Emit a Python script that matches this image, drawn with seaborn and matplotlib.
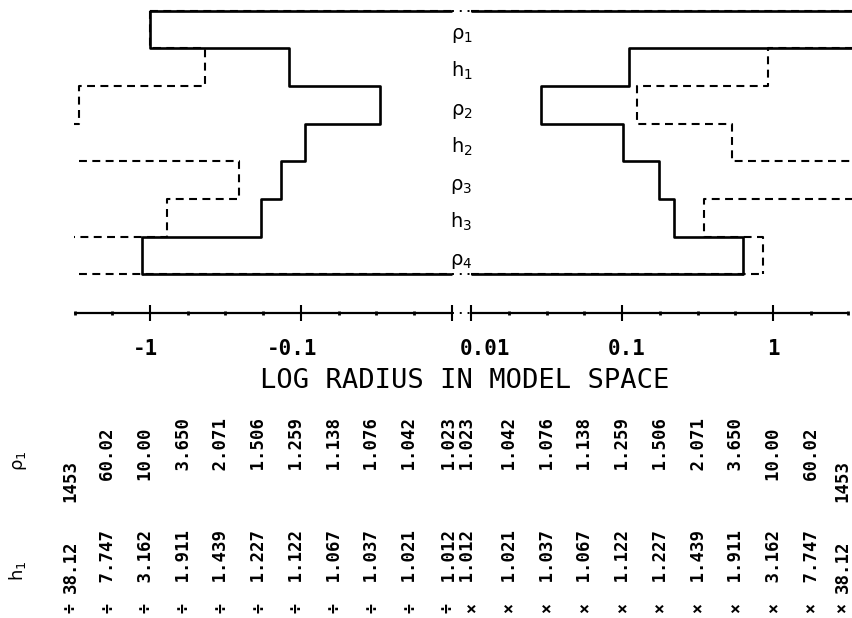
import numpy as np
import matplotlib
matplotlib.use("Agg")
import matplotlib.pyplot as plt
import matplotlib.transforms as mtransforms
import seaborn as sns

sns.set_theme(style="white")
plt.rcParams['font.family'] = ['DejaVu Sans']
plt.rcParams['mathtext.fontset'] = 'dejavusans'

# ---------------- data ----------------
layer_labels = ["ρ$_1$", "h$_1$", "ρ$_2$", "h$_2$", "ρ$_3$", "h$_3$", "ρ$_4$"]
# bounds of each layer row on the log-radius axis (inf = beyond the plotted range)
solid_left = [-1.0, -0.120, -0.030, -0.094, -0.136, -0.184, -1.13]
solid_right = [np.inf, 0.111, 0.0291, 0.1016, 0.176, 0.221, 0.633]
dash_left = [-1.0, -0.433, -2.95, -np.inf, -0.258, -0.771, -np.inf]
dash_right = [np.inf, 0.927, 0.126, 0.535, np.inf, 0.349, 0.859]

major_ticks = [-1, -0.1, -0.01, 0.01, 0.1, 1]
major_labels = ["-1", "-0.1", "", "0.01", "0.1", "1"]
minor_ticks = [-10**0.5, -10**0.25, -10**-0.25, -10**-0.5, -10**-0.75,
               -10**-1.25, -10**-1.5, -10**-1.75,
               10**-1.75, 10**-1.5, 10**-1.25, 10**-0.75, 10**-0.5,
               10**-0.25, 10**0.25, 10**0.5]
axis_title = "LOG RADIUS IN MODEL SPACE"

# table columns (log10 of |radius|), left side mirrored on right side
col_log = [0.5, 0.25, 0.0, -0.25, -0.5, -0.75, -1.0, -1.25, -1.5, -1.75, -2.0]
rho_factor = ["1453", "60.02", "10.00", "3.650", "2.071", "1.506", "1.259",
              "1.138", "1.076", "1.042", "1.023"]
h_factor = ["38.12", "7.747", "3.162", "1.911", "1.439", "1.227", "1.122",
            "1.067", "1.037", "1.021", "1.012"]
op_left, op_right = "÷", "×"

# ---------------- scale: signed log radius with a break around zero ----------------
G = 0.063  # half width of the break, in decades


def fwd(r):
    r = np.asarray(r, dtype=float)
    a = np.abs(r)
    with np.errstate(divide='ignore', invalid='ignore'):
        out = np.where(a <= 0.01, r / 0.01 * G,
                       np.sign(r) * (np.log10(np.maximum(a, 1e-300)) + 2 + G))
    return out


def inv(u):
    u = np.asarray(u, dtype=float)
    a = np.abs(u)
    with np.errstate(over='ignore'):
        return np.where(a <= G, u / G * 0.01, np.sign(u) * 10 ** (a - 2 - G))


W, H = 853, 618
fig = plt.figure(figsize=(W / 100, H / 100), dpi=100)
fig.patch.set_facecolor('white')


def rect(x0, y0, x1, y1):
    return [x0 / W, 1 - y1 / H, (x1 - x0) / W, (y1 - y0) / H]


BIG = 1e3
INK = 'black'

# ---------------- top panel ----------------
ax = fig.add_axes(rect(74.5, 1.3, 853, 283.7))
ax.set_xscale('function', functions=(fwd, inv))
ax.set_xlim(-10**0.5, 10**0.53)
ax.set_ylim(7.25, -0.25)
ax.axis('off')


def clipinf(v):
    return [max(min(x, BIG), -BIG) for x in v]


def step_path(bounds):
    xs, ys = [], []
    for i, b in enumerate(bounds):
        xs += [b, b]
        ys += [i, i + 1]
    return xs, ys


def hline(x0, x1, y, ls, lw, gapdots):
    lo, hi = min(x0, x1), max(x0, x1)
    if lo < -0.01 and hi > 0.01:
        ax.plot([lo, -0.01], [y, y], color=INK, lw=lw, ls=ls, solid_capstyle='butt')
        ax.plot([0.01, hi], [y, y], color=INK, lw=lw, ls=ls, solid_capstyle='butt')
        if gapdots:
            ax.plot([-0.01, 0.01], [y, y], color=INK, lw=1.4, ls=(0, (1, 3)))
    else:
        ax.plot([lo, hi], [y, y], color=INK, lw=lw, ls=ls)


n = len(layer_labels)
dash_style = (0, (3.8, 2.6))
for L, R, ls, lw, gd in [(clipinf(dash_left), clipinf(dash_right), dash_style, 1.5, False),
                         (clipinf(solid_left), clipinf(solid_right), '-', 1.9, True)]:
    for side in (L, R):
        xs, ys = step_path(side)
        sns.lineplot(x=xs, y=ys, sort=False, estimator=None, ax=ax, color=INK,
                     lw=lw, linestyle=ls)
    hline(L[0], R[0], 0, ls, lw, gd)
    hline(L[-1], R[-1], n, ls, lw, gd)
ax.set_xlabel('')
ax.set_ylabel('')

for i, lab in enumerate(layer_labels):
    ax.text(0, i + 0.5 + 0.26, lab, ha='center', va='baseline', fontsize=14,
            color=INK)

# ---------------- number line ----------------
axn = fig.add_axes(rect(74.5, 303, 848.5, 313))
axn.set_xscale('function', functions=(fwd, inv))
axn.set_xlim(-10**0.5, 10**0.5)
axn.set_ylim(0, 1)
for s in axn.spines.values():
    s.set_visible(False)
axn.set_facecolor('none')
axn.plot([-10**0.5, -0.01], [0, 0], color=INK, lw=1.6, clip_on=False)
axn.plot([0.01, 10**0.5], [0, 0], color=INK, lw=1.6, clip_on=False)
axn.plot([-0.01, 0.01], [0, 0], color=INK, lw=1.4, ls=(0, (1, 3)), clip_on=False)
axn.set_xticks(major_ticks)
axn.set_xticklabels([])
axn.set_xticks(minor_ticks, minor=True)
axn.set_yticks([])
axn.tick_params(axis='x', which='major', direction='inout', length=12, width=1.5,
                color=INK, bottom=True)
axn.tick_params(axis='x', which='minor', direction='inout', length=3.5, width=2,
                color=INK, bottom=True)
label_dx = {"-1": -4, "-0.1": -9, "0.01": 14, "0.1": 5, "1": 0}
for t, lab in zip(major_ticks, major_labels):
    if not lab:
        continue
    axn.annotate(lab, xy=(t, 0), xycoords=axn.get_xaxis_transform(),
                 xytext=(label_dx[lab] * 0.72, -19), textcoords='offset points',
                 ha='center', va='top', fontsize=15, fontweight='bold',
                 family='DejaVu Sans Mono', color=INK)

fig.text(465 / W, 1 - 381 / H, axis_title, ha='center', va='center', fontsize=19.5,
         family='DejaVu Sans Mono', color=INK)

# ---------------- table ----------------
axt = fig.add_axes(rect(74.5, 390, 848.5, 618))
axt.set_xscale('function', functions=(fwd, inv))
axt.set_xlim(-10**0.5, 10**0.5)
axt.set_ylim(618, 390)
axt.axis('off')


def shifted(dx):
    return axt.transData + mtransforms.ScaledTranslation(dx / 100, 0, fig.dpi_scale_trans)


def dec_align(s, width):
    ip, dot, fp = s.partition('.')
    return ip.rjust(width) + dot + fp


tkw = dict(rotation=90, rotation_mode='anchor', ha='left', va='center',
           fontsize=12.5, fontweight='bold', family='DejaVu Sans Mono', color=INK)
for side, sign, dx, op in [(0, -1, -4, op_left), (1, 1, 1, op_right)]:
    for k, (lg, rv, hv) in enumerate(zip(col_log, rho_factor, h_factor)):
        r = sign * 10 ** lg
        ddx = dx
        odx = dx
        if lg == -2.0:
            ddx = -2 if side == 0 else -3
        if side == 1 and lg == 0.5:
            ddx = -6
            odx = -6
        axt.text(r, 502, dec_align(rv, 4), transform=shifted(ddx), **tkw)
        axt.text(r, 593, dec_align(hv, 2), transform=shifted(ddx), **tkw)
        axt.text(r, 608, op, transform=shifted(odx), rotation=90, ha='center',
                 va='center', fontsize=12, fontweight='bold',
                 family='DejaVu Sans Mono', color=INK)

fig.text(20 / W, 1 - 461 / H, "ρ$_1$", rotation=90, ha='center', va='center',
         fontsize=13, color=INK)
fig.text(17 / W, 1 - 571 / H, "h$_1$", rotation=90, ha='center', va='center',
         fontsize=13, color=INK)

fig.savefig('out.png', dpi=100, facecolor='white')
